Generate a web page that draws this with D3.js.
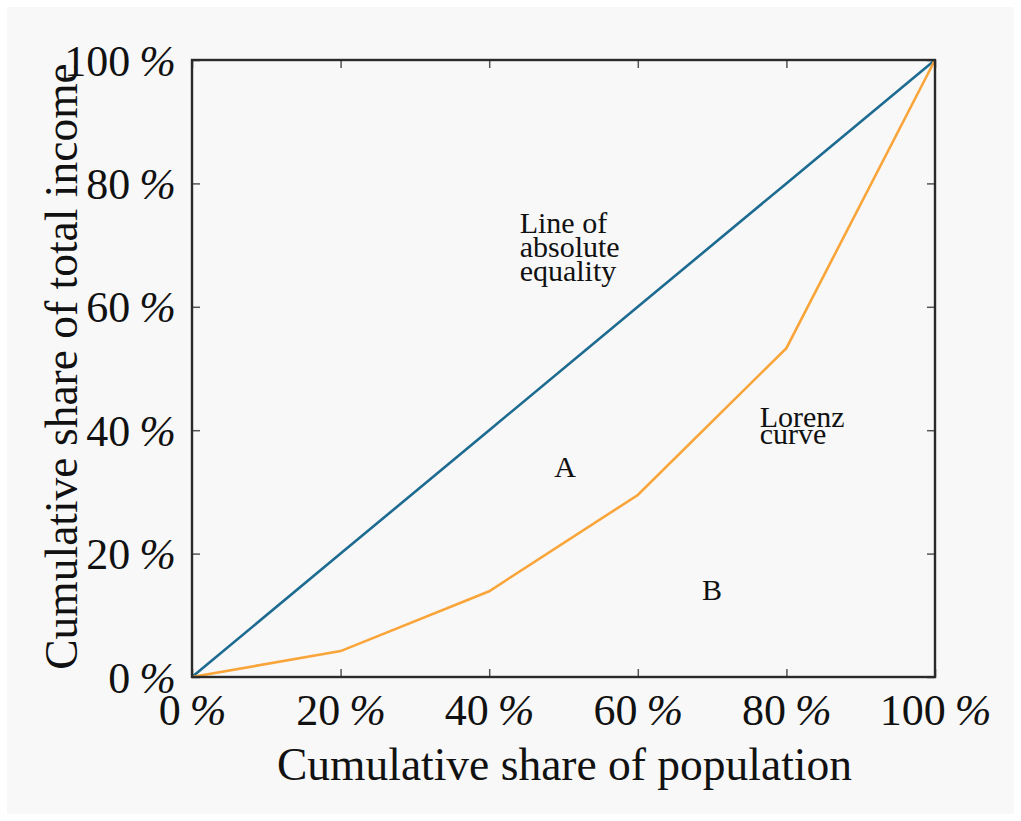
<!DOCTYPE html>
<html><head><meta charset="utf-8">
<script src="https://cdn.jsdelivr.net/npm/d3@7"></script>
<style>
html,body{margin:0;padding:0;background:#fff;}
svg{display:block;}
text{font-family:"Liberation Serif","Times New Roman",serif;fill:#111;}
</style></head>
<body>
<svg id="chart" width="1021" height="821"></svg>
<script>
const population = [0, 20, 40, 60, 80, 100];
const equality = [0, 20, 40, 60, 80, 100];
const lorenz = [0, 4.2, 13.9, 29.5, 53.3, 100];
const tickValues = [0, 20, 40, 60, 80, 100];
const tickLabels = ["0 %", "20 %", "40 %", "60 %", "80 %", "100 %"];
const xTitle = "Cumulative share of population";
const yTitle = "Cumulative share of total income";
const annotations = [
  {lines: ["Line of", "absolute", "equality"], x: 44.1, y: 72.0, anchor: "start"},
  {lines: ["Lorenz", "curve"], x: 76.4, y: 40.5, anchor: "start"},
  {lines: ["A"], x: 50.2, y: 32.4, anchor: "middle"},
  {lines: ["B"], x: 70.0, y: 12.5, anchor: "middle"}
];

const svg = d3.select("#chart");
svg.append("rect").attr("x",7).attr("y",7).attr("width",1007).attr("height",807).attr("fill","#f8f8f8");

const L = 192, R = 935, T = 60, B = 677;
const x = d3.scaleLinear().domain([0,100]).range([L,R]);
const y = d3.scaleLinear().domain([0,100]).range([B,T]);

const g = svg.append("g");
const tickLen = 8;
const fmt = (d) => tickLabels[tickValues.indexOf(d)];
const axB = g.append("g").attr("transform",`translate(0,${B})`).call(d3.axisTop(x).tickValues(tickValues).tickSize(tickLen).tickFormat(""));
const axT = g.append("g").attr("transform",`translate(0,${T})`).call(d3.axisBottom(x).tickValues(tickValues).tickSize(tickLen).tickFormat(""));
const axL = g.append("g").attr("transform",`translate(${L},0)`).call(d3.axisRight(y).tickValues(tickValues).tickSize(tickLen).tickFormat(""));
const axR = g.append("g").attr("transform",`translate(${R},0)`).call(d3.axisLeft(y).tickValues(tickValues).tickSize(tickLen).tickFormat(""));
[axB,axT,axL,axR].forEach(a=>{a.select(".domain").remove();a.selectAll("line").attr("stroke","#555").attr("stroke-width",1.5);});

function styleLabel(sel){
  sel.each(function(){
    const t = d3.select(this);
    const s = t.text();
    const parts = s.split(" ");
    t.text(null);
    t.append("tspan").text(parts[0]);
    t.append("tspan").attr("dx", 9).attr("font-style","italic").text(parts[1]);
  });
}

// tick labels
const xl = g.append("g").attr("transform",`translate(0,${B})`).call(d3.axisBottom(x).tickValues(tickValues).tickSize(0).tickPadding(0).tickFormat(fmt));
xl.select(".domain").remove();
xl.selectAll("text").attr("font-size",44).attr("font-family","Liberation Serif, serif").attr("fill","#111").attr("y",48).attr("dy",null).call(styleLabel);
const yl = g.append("g").attr("transform",`translate(${L},0)`).call(d3.axisLeft(y).tickValues(tickValues).tickSize(0).tickPadding(16).tickFormat(fmt));
yl.select(".domain").remove();
yl.selectAll("text").attr("font-size",44).attr("font-family","Liberation Serif, serif").attr("fill","#111").attr("dy",15).call(styleLabel);

// lines
const line = d3.line().x((d,i)=>x(population[i])).y(d=>y(d));
g.append("path").datum(equality).attr("d",line).attr("fill","none").attr("stroke","#1d6b91").attr("stroke-width",2.6);
g.append("path").datum(lorenz).attr("d",line).attr("fill","none").attr("stroke","#f9a53a").attr("stroke-width",2.6);

// frame
g.append("rect").attr("x",L).attr("y",T).attr("width",R-L).attr("height",B-T).attr("fill","none").attr("stroke","#2a2a2a").attr("stroke-width",2.4);

// titles
g.append("text").attr("x",(L+R)/2 + 1).attr("y",780).attr("text-anchor","middle").attr("font-size",45.5).text(xTitle);
g.append("text").attr("transform",`translate(77,${(T+B)/2 - 2}) rotate(-90)`).attr("text-anchor","middle").attr("font-size",45.5).text(yTitle);

// annotations
annotations.forEach(a=>{
  const t = g.append("text").attr("x",x(a.x)).attr("y",y(a.y)).attr("font-size",30).attr("text-anchor",a.anchor);
  a.lines.forEach((s,i)=>{
    t.append("tspan").attr("x",x(a.x)).attr("dy", i===0?0:(a.lines.length===2?17:24)).text(s);
  });
});
</script>
</body></html>
